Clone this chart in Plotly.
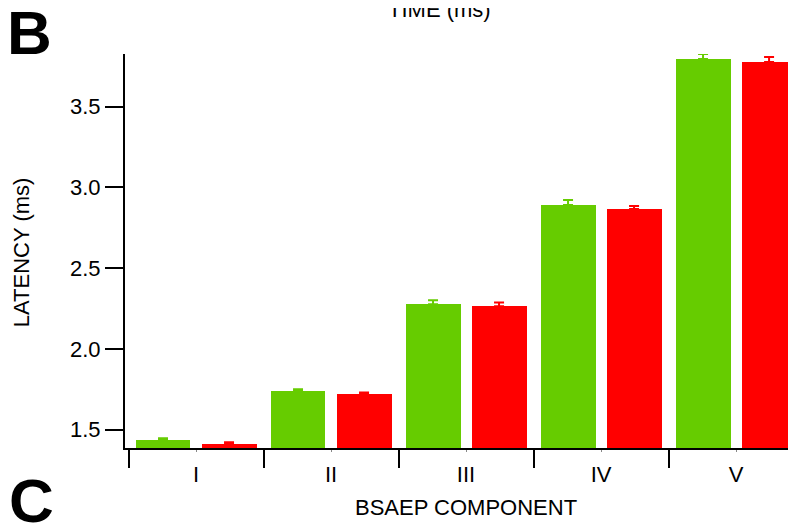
import plotly.graph_objects as go

categories = ["I", "II", "III", "IV", "V"]
green_vals = [1.434, 1.737, 2.277, 2.891, 3.796]
red_vals = [1.409, 1.719, 2.264, 2.866, 3.777]
green_err = [0.012, 0.013, 0.025, 0.031, 0.031]
red_err = [0.012, 0.011, 0.023, 0.020, 0.031]
y_ticks = [1.5, 2.0, 2.5, 3.0, 3.5]

GREEN = "#66CC00"
RED = "#FF0000"
FONT = "Liberation Sans, Arial, sans-serif"

xpos = list(range(len(categories)))
bar_w = 0.407
g_off = -0.448
r_off = 0.041

fig = go.Figure()
fig.add_trace(go.Bar(x=xpos, y=green_vals, width=bar_w, offset=g_off,
                     marker=dict(color=GREEN, line=dict(width=0)), showlegend=False))
fig.add_trace(go.Bar(x=xpos, y=red_vals, width=bar_w, offset=r_off,
                     marker=dict(color=RED, line=dict(width=0)), showlegend=False))
# error bars (upper caps), drawn unclipped
fig.add_trace(go.Scatter(x=[i + g_off + bar_w / 2 for i in xpos], y=green_vals, mode="markers",
                         marker=dict(opacity=0, size=1), cliponaxis=False, showlegend=False,
                         error_y=dict(type="data", array=green_err, arrayminus=[0]*5, symmetric=False,
                                      color=GREEN, thickness=2, width=5)))
fig.add_trace(go.Scatter(x=[i + r_off + bar_w / 2 for i in xpos], y=red_vals, mode="markers",
                         marker=dict(opacity=0, size=1), cliponaxis=False, showlegend=False,
                         error_y=dict(type="data", array=red_err, arrayminus=[0]*5, symmetric=False,
                                      color=RED, thickness=2, width=5)))

fig.update_layout(
    width=788, height=517,
    margin=dict(l=117, r=0, t=46, b=77),
    paper_bgcolor="white", plot_bgcolor="white",
    font=dict(family=FONT, color="black", size=22),
    bargap=0,
    xaxis=dict(range=[-0.526, 4.444], tickvals=xpos, ticktext=categories,
               showline=True, linewidth=2, linecolor="black",
               ticks="outside", ticklen=2, tickwidth=1, tickcolor="#888888",
               ticklabelstandoff=4,
               minor=dict(tickvals=[i - 0.5 for i in range(len(categories) + 1)],
                          ticks="outside", ticklen=18, tickwidth=2, tickcolor="black"),
               showgrid=False, zeroline=False, tickfont=dict(size=22)),
    yaxis=dict(range=[1.386, 3.827], tickvals=y_ticks, tickformat=".1f",
               showline=True, linewidth=2, linecolor="black",
               ticks="outside", ticklen=18, tickwidth=2, tickcolor="black",
               showgrid=False, zeroline=False, tickfont=dict(size=22)),
    annotations=[
        dict(text="LATENCY (ms)", xref="paper", yref="paper", x=-0.155, y=0.497,
             textangle=-90, showarrow=False, xanchor="center", yanchor="middle",
             font=dict(size=22)),
        dict(text="BSAEP COMPONENT", xref="paper", yref="paper", x=0.508, y=-0.150,
             showarrow=False, xanchor="center", yanchor="middle", font=dict(size=22)),
        dict(text="TIME (ms)", xref="paper", yref="paper", x=0.469, y=1.112,
             showarrow=False, xanchor="center", yanchor="middle", font=dict(size=22)),
        dict(text="<b>B</b>", xref="paper", yref="paper", x=-0.1416, y=1.054,
             showarrow=False, xanchor="center", yanchor="middle", font=dict(size=62)),
        dict(text="<b>C</b>", xref="paper", yref="paper", x=-0.140, y=-0.134,
             showarrow=False, xanchor="center", yanchor="middle", font=dict(size=62)),
    ],
)

fig.write_html("out.html")
